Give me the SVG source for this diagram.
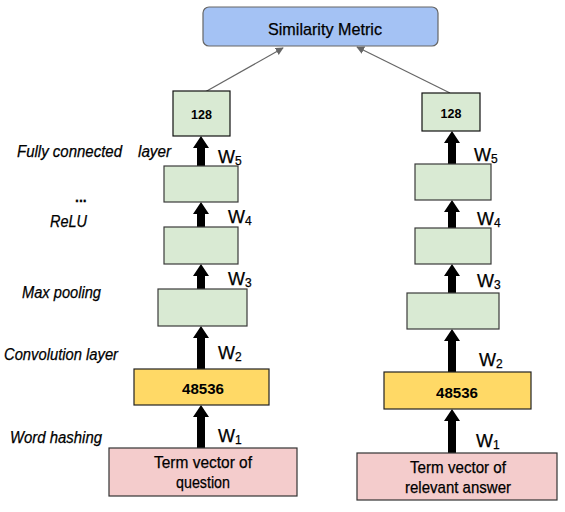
<svg xmlns="http://www.w3.org/2000/svg" width="565" height="512" viewBox="0 0 565 512">
<style>
  text { font-family: "Liberation Sans", Arial, sans-serif; fill: #000; stroke: #000; stroke-width: 0.25; }
  .lbl { font-size: 16px; font-style: italic; }
  .w { font-size: 18px; }
  .sub { font-size: 12px; }
  .num { font-size: 12.5px; font-weight: bold; stroke-width: 0; }
  .big { font-size: 15px; font-weight: bold; stroke-width: 0; }
  .term { font-size: 17px; }
  .green { fill: #d9ead3; stroke: #3a3a3a; stroke-width: 1.2; }
  .yellow { fill: #ffd966; stroke: #222; stroke-width: 1.2; }
  .pink { fill: #f4cccc; stroke: #333; stroke-width: 1.2; }
  .sim { fill: #a4c2f4; stroke: #666; stroke-width: 1.2; }
  .blk { fill: #000; }
  .conn { stroke: #666; stroke-width: 1.2; fill: none; }
</style>
<defs>
  <marker id="ah" viewBox="0 0 10 10" refX="9" refY="5" markerWidth="8" markerHeight="8" markerUnits="userSpaceOnUse" orient="auto">
    <path d="M0,0 L10,5 L0,10 z" fill="#666"/>
  </marker>
</defs>

<g id="similarity">
  <rect class="sim" x="203" y="7" width="235" height="39" rx="6"/>
  <text x="325" y="35" font-size="17" text-anchor="middle" textLength="114" lengthAdjust="spacingAndGlyphs">Similarity Metric</text>
</g>

<g id="connectors">
  <line class="conn" x1="205" y1="92" x2="283" y2="48" marker-end="url(#ah)"/>
  <line class="conn" x1="450" y1="93" x2="357" y2="47" marker-end="url(#ah)"/>
  <path class="blk" d="M201,136 L209,148 L205,148 L205,166 L197,166 L197,148 L193,148 Z"/>
  <path class="blk" d="M201,202 L209,214 L205,214 L205,227 L197,227 L197,214 L193,214 Z"/>
  <path class="blk" d="M201,264 L209,276 L205,276 L205,289 L197,289 L197,276 L193,276 Z"/>
  <path class="blk" d="M201,326 L209,338 L205,338 L205,369 L197,369 L197,338 L193,338 Z"/>
  <path class="blk" d="M201,405 L209,417 L205,417 L205,448 L197,448 L197,417 L193,417 Z"/>
  <path class="blk" d="M452,131 L460,143 L456,143 L456,164 L448,164 L448,143 L444,143 Z"/>
  <path class="blk" d="M452,200 L460,212 L456,212 L456,228 L448,228 L448,212 L444,212 Z"/>
  <path class="blk" d="M452,264 L460,276 L456,276 L456,293 L448,293 L448,276 L444,276 Z"/>
  <path class="blk" d="M452,329 L460,341 L456,341 L456,372 L448,372 L448,341 L444,341 Z"/>
  <path class="blk" d="M452,409 L460,421 L456,421 L456,453 L448,453 L448,421 L444,421 Z"/>
</g>

<g id="left-128">
  <rect class="green" x="173" y="91" width="57" height="45" style="stroke:#111"/>
  <text class="num" x="201.5" y="119" text-anchor="middle">128</text>
</g>
<g id="left-fc"><rect class="green" x="164" y="166" width="74" height="36"/></g>
<g id="left-relu"><rect class="green" x="164" y="227" width="74" height="37"/></g>
<g id="left-pool"><rect class="green" x="158" y="289" width="89" height="37"/></g>
<g id="left-48536">
  <rect class="yellow" x="134" y="369" width="135" height="36"/>
  <text class="big" x="203" y="394" text-anchor="middle" textLength="42" lengthAdjust="spacingAndGlyphs">48536</text>
</g>
<g id="left-term">
  <rect class="pink" x="109" y="448" width="188" height="48"/>
  <text class="term" x="203" y="468" text-anchor="middle" textLength="98" lengthAdjust="spacingAndGlyphs">Term vector of</text>
  <text class="term" x="203" y="488" text-anchor="middle" textLength="54" lengthAdjust="spacingAndGlyphs">question</text>
</g>

<g id="right-128">
  <rect class="green" x="422" y="93" width="58" height="38" style="stroke:#111"/>
  <text class="num" x="451" y="118" text-anchor="middle">128</text>
</g>
<g id="right-fc"><rect class="green" x="415" y="164" width="76" height="36"/></g>
<g id="right-relu"><rect class="green" x="415" y="228" width="76" height="36"/></g>
<g id="right-pool"><rect class="green" x="407" y="293" width="92" height="36"/></g>
<g id="right-48536">
  <rect class="yellow" x="384" y="372" width="147" height="37"/>
  <text class="big" x="457" y="398" text-anchor="middle" textLength="42" lengthAdjust="spacingAndGlyphs">48536</text>
</g>
<g id="right-term">
  <rect class="pink" x="357" y="453" width="200" height="47"/>
  <text class="term" x="458" y="473" text-anchor="middle" textLength="96" lengthAdjust="spacingAndGlyphs">Term vector of</text>
  <text class="term" x="458" y="493" text-anchor="middle" textLength="106" lengthAdjust="spacingAndGlyphs">relevant answer</text>
</g>

<g id="weights">
  <text class="w" x="218" y="163">W<tspan class="sub" dy="2">5</tspan></text>
  <text class="w" x="228" y="223">W<tspan class="sub" dy="2">4</tspan></text>
  <text class="w" x="228" y="285">W<tspan class="sub" dy="2">3</tspan></text>
  <text class="w" x="218" y="359">W<tspan class="sub" dy="2">2</tspan></text>
  <text class="w" x="218" y="442">W<tspan class="sub" dy="2">1</tspan></text>
  <text class="w" x="474" y="161">W<tspan class="sub" dy="2">5</tspan></text>
  <text class="w" x="477" y="225">W<tspan class="sub" dy="2">4</tspan></text>
  <text class="w" x="477" y="287">W<tspan class="sub" dy="2">3</tspan></text>
  <text class="w" x="479" y="366">W<tspan class="sub" dy="2">2</tspan></text>
  <text class="w" x="476" y="447">W<tspan class="sub" dy="2">1</tspan></text>
</g>

<g id="layer-labels">
  <text class="lbl" y="157"><tspan x="17" textLength="105" lengthAdjust="spacingAndGlyphs">Fully connected</tspan><tspan x="138" textLength="33" lengthAdjust="spacingAndGlyphs">layer</tspan></text>
  <text x="75" y="202" font-size="14" font-weight="bold">...</text>
  <text class="lbl" x="50" y="227" textLength="37" lengthAdjust="spacingAndGlyphs">ReLU</text>
  <text class="lbl" x="22" y="298" textLength="79" lengthAdjust="spacingAndGlyphs">Max pooling</text>
  <text class="lbl" x="4" y="360" textLength="114" lengthAdjust="spacingAndGlyphs">Convolution layer</text>
  <text class="lbl" x="10" y="443" textLength="92" lengthAdjust="spacingAndGlyphs">Word hashing</text>
</g>
</svg>
